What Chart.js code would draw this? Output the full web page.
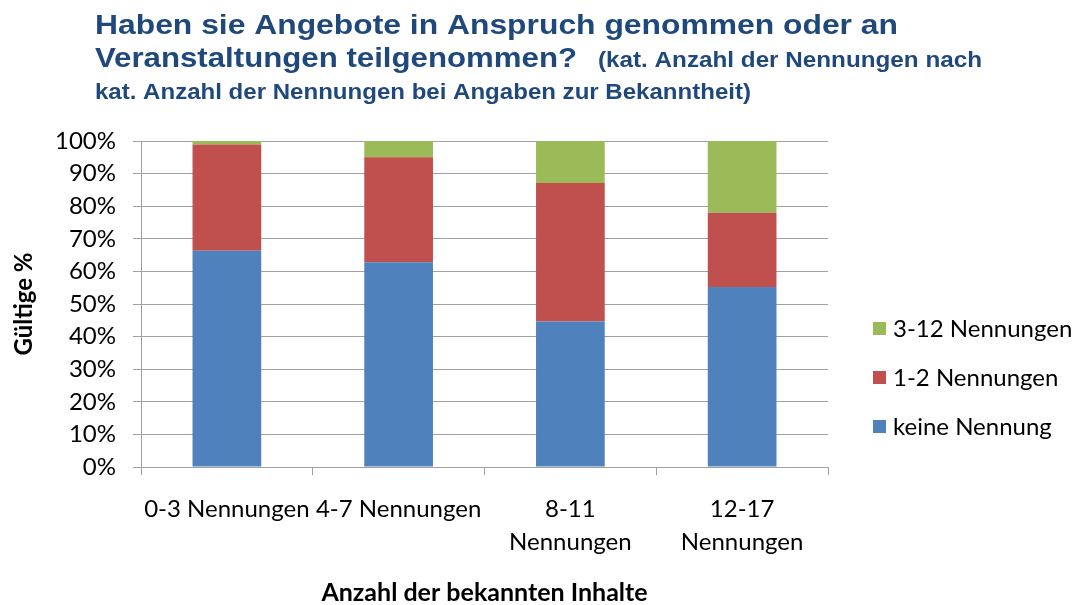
<!DOCTYPE html>
<html>
<head>
<meta charset="utf-8">
<script src="https://cdn.jsdelivr.net/npm/chart.js@4"></script>
<style>
  html, body { margin: 0; padding: 0; background: #fff; }
  #wrap { width: 1078px; height: 605px; position: relative; }
</style>
</head>
<body>
<div id="wrap"><canvas id="myChart" width="1078" height="605"></canvas></div>
<script>
// chart data
const categories = ['0-3 Nennungen', '4-7 Nennungen', ['8-11', 'Nennungen'], ['12-17', 'Nennungen']];
const keineNennung = [66.3, 62.8, 44.6, 55.2];
const nennungen1bis2 = [32.6, 32.2, 42.5, 22.8];
const nennungen3bis12 = [1.1, 5.0, 12.9, 22.0];
const seriesNames = ['keine Nennung', '1-2 Nennungen', '3-12 Nennungen'];

const titleLines = [
  'Haben sie Angebote in Anspruch genommen oder an',
  'Veranstaltungen teilgenommen?',
  '(kat. Anzahl der Nennungen nach',
  'kat. Anzahl der Nennungen bei Angaben zur Bekanntheit)'
];

const FONT = 'Lato, "Open Sans", sans-serif';

// draw text squeezed/stretched to a given width
function fitText(ctx, text, x, y, width) {
  var w = ctx.measureText(text).width;
  ctx.save();
  ctx.translate(x, y);
  ctx.scale(width / w, 1);
  ctx.fillText(text, 0, 0);
  ctx.restore();
}

const titlePlugin = {
  id: 'titleText',
  afterDraw(chart) {
    const ctx = chart.ctx;
    ctx.save();
    ctx.fillStyle = '#1F497D';
    ctx.textBaseline = 'alphabetic';
    ctx.textAlign = 'left';
    ctx.font = 'bold 28px "Liberation Sans", Arial, sans-serif';
    fitText(ctx, titleLines[0], 95, 34, 803);
    fitText(ctx, titleLines[1], 95, 67, 482);
    ctx.font = 'bold 22px "Liberation Sans", Arial, sans-serif';
    fitText(ctx, titleLines[2], 598, 67, 384);
    fitText(ctx, titleLines[3], 95, 99, 656);
    ctx.restore();
  }
};

const legendPlugin = {
  id: 'sideLegend',
  afterDraw(chart) {
    const ctx = chart.ctx;
    const ds = chart.data.datasets;
    const ys = [328, 377, 426];
    ctx.save();
    ctx.font = '24px ' + FONT;
    ctx.textBaseline = 'middle';
    ctx.textAlign = 'left';
    for (var i = 0; i < ds.length; i++) {
      var d = ds[ds.length - 1 - i];
      ctx.fillStyle = d.backgroundColor;
      ctx.fillRect(873, ys[i] - 6, 13, 13);
      ctx.fillStyle = '#000';
      ctx.fillText(d.label, 893, ys[i] + 1);
    }
    ctx.restore();
  }
};

const ctx = document.getElementById('myChart').getContext('2d');
const myChart = new Chart(ctx, {
  type: 'bar',
  data: {
    labels: categories,
    datasets: [
      { label: seriesNames[0], data: keineNennung, backgroundColor: '#4F81BD' },
      { label: seriesNames[1], data: nennungen1bis2, backgroundColor: '#C0504D' },
      { label: seriesNames[2], data: nennungen3bis12, backgroundColor: '#9BBB59' }
    ]
  },
  options: {
    responsive: false,
    animation: false,
    barPercentage: 0.4,
    categoryPercentage: 1,
    layout: { padding: { top: 141, right: 250, left: 0, bottom: 0 } },
    plugins: {
      legend: { display: false },
      tooltip: { enabled: false }
    },
    scales: {
      x: {
        stacked: true,
        afterFit(s) { s.height = 138; },
        grid: { drawOnChartArea: false, drawTicks: true, tickLength: 8, color: '#a0a0a0', offset: true },
        border: { color: '#a0a0a0' },
        ticks: {
          color: '#000',
          maxRotation: 0,
          autoSkip: false,
          padding: 18,
          font: { family: FONT, size: 24, lineHeight: 1.36 }
        },
        title: {
          display: true,
          text: 'Anzahl der bekannten Inhalte',
          color: '#000',
          padding: { top: 0, bottom: -3 },
          font: { family: FONT, size: 25, weight: 'bold' }
        }
      },
      y: {
        stacked: true,
        min: 0,
        max: 100,
        afterFit(s) { s.width = 141; },
        grid: { color: '#a0a0a0', tickLength: 8 },
        border: { color: '#a0a0a0' },
        ticks: {
          stepSize: 10,
          color: '#000',
          padding: 17,
          font: { family: FONT, size: 24 },
          callback: v => v + '%'
        },
        title: {
          display: true,
          text: 'Gültige %',
          color: '#000',
          padding: { top: 10, bottom: 0 },
          font: { family: FONT, size: 24, weight: 'bold' }
        }
      }
    }
  },
  plugins: [titlePlugin, legendPlugin]
});
</script>
</body>
</html>
